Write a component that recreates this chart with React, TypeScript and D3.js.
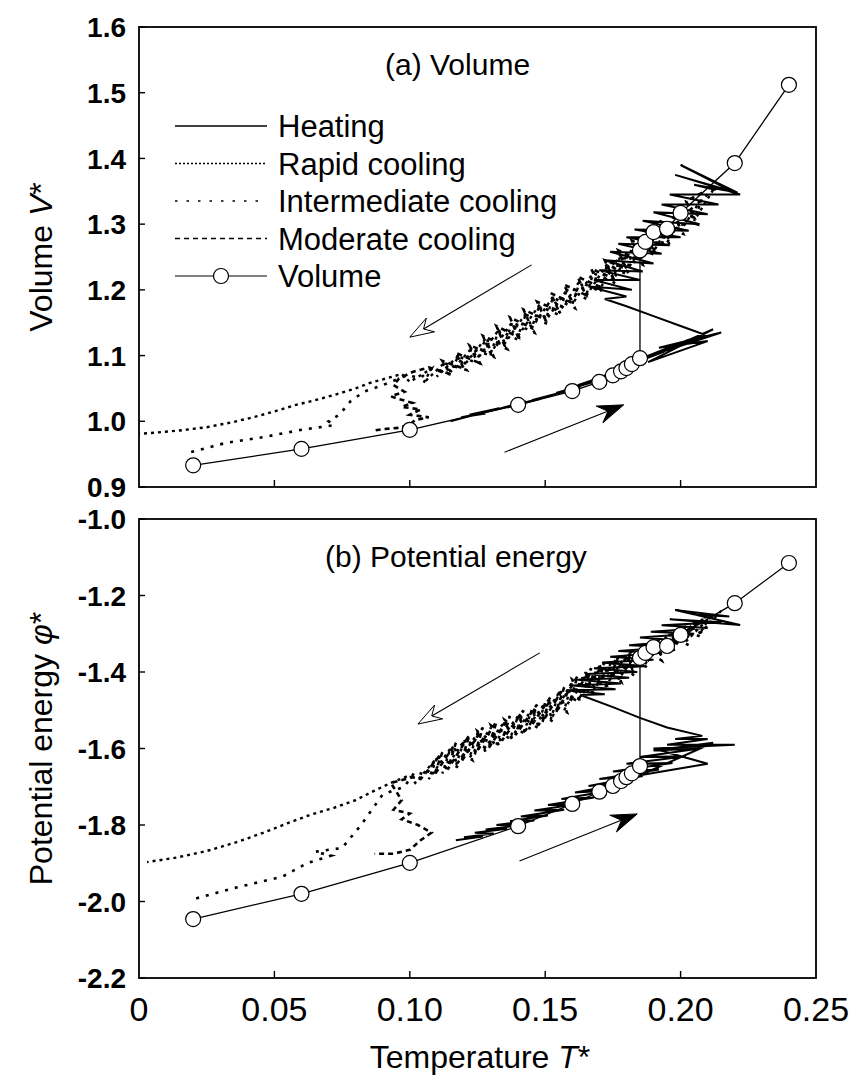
import * as d3 from "d3"

// axes
const X_TICKS = [0, 0.05, 0.1, 0.15, 0.2, 0.25]
const X_TICK_LABELS = ["0", "0.05", "0.10", "0.15", "0.20", "0.25"]
const V_TICKS = [0.9, 1.0, 1.1, 1.2, 1.3, 1.4, 1.5, 1.6]
const V_TICK_LABELS = ["0.9", "1.0", "1.1", "1.2", "1.3", "1.4", "1.5", "1.6"]
const PHI_TICKS = [-2.2, -2.0, -1.8, -1.6, -1.4, -1.2, -1.0]
const PHI_TICK_LABELS = ["-2.2", "-2.0", "-1.8", "-1.6", "-1.4", "-1.2", "-1.0"]

// circle series (same temperatures in both panels)
const STEP_T = [0.02, 0.06, 0.1, 0.14, 0.16, 0.17, 0.175, 0.178, 0.18, 0.182, 0.185, 0.185, 0.187, 0.19, 0.195, 0.2, 0.22, 0.24]
const STEP_V = [0.933, 0.958, 0.987, 1.025, 1.046, 1.06, 1.07, 1.076, 1.081, 1.087, 1.096, 1.26, 1.273, 1.288, 1.293, 1.317, 1.393, 1.512]
const STEP_PHI = [-2.046, -1.98, -1.899, -1.803, -1.745, -1.713, -1.698, -1.685, -1.675, -1.665, -1.646, -1.363, -1.35, -1.335, -1.332, -1.303, -1.22, -1.115]

type P = [number, number]

// panel (a) traces, [T*, V*]
const HEATING_A: P[] = [
  [0.115, 1.0], [0.124, 1.01], [0.119, 1.006], [0.128, 1.012], [0.122, 1.01], [0.133, 1.02], [0.126, 1.012],
  [0.138, 1.024], [0.131, 1.017], [0.143, 1.03], [0.136, 1.021], [0.148, 1.034], [0.14, 1.026], [0.153, 1.04],
  [0.145, 1.032], [0.158, 1.046], [0.149, 1.036], [0.163, 1.052], [0.154, 1.043], [0.168, 1.06], [0.158, 1.048],
  [0.172, 1.068], [0.162, 1.055], [0.177, 1.076], [0.166, 1.06], [0.182, 1.086], [0.17, 1.066], [0.188, 1.098],
  [0.174, 1.075], [0.194, 1.106], [0.178, 1.082], [0.198, 1.115], [0.182, 1.09], [0.203, 1.124], [0.186, 1.096],
  [0.208, 1.13], [0.19, 1.1], [0.212, 1.14], [0.188, 1.09], [0.21, 1.122], [0.192, 1.112], [0.215, 1.135],
  [0.195, 1.108], [0.21, 1.13],
  [0.2, 1.145], [0.19, 1.16], [0.18, 1.175], [0.172, 1.186],
  [0.18, 1.19], [0.166, 1.205], [0.182, 1.2], [0.168, 1.215], [0.185, 1.215], [0.17, 1.23], [0.186, 1.228],
  [0.172, 1.245], [0.19, 1.24], [0.174, 1.258], [0.193, 1.255], [0.177, 1.27], [0.196, 1.268], [0.18, 1.28],
  [0.2, 1.28], [0.183, 1.292], [0.203, 1.29], [0.186, 1.305], [0.207, 1.3], [0.19, 1.318], [0.21, 1.315],
  [0.193, 1.33], [0.214, 1.33], [0.196, 1.345], [0.222, 1.345], [0.198, 1.375], [0.219, 1.35], [0.2, 1.39],
  [0.221, 1.348], [0.205, 1.36], [0.213, 1.352],
]
const RAPID_A: P[] = [
  [0.212, 1.352], [0.205, 1.305], [0.208, 1.34], [0.2, 1.29], [0.203, 1.33], [0.195, 1.272], [0.198, 1.315],
  [0.19, 1.258], [0.193, 1.298], [0.185, 1.245], [0.188, 1.282], [0.18, 1.228], [0.183, 1.268], [0.175, 1.215],
  [0.178, 1.255], [0.17, 1.2], [0.173, 1.24], [0.165, 1.19], [0.168, 1.228], [0.16, 1.178], [0.163, 1.215],
  [0.155, 1.165], [0.158, 1.2], [0.15, 1.152], [0.153, 1.19], [0.145, 1.142], [0.148, 1.178], [0.14, 1.13],
  [0.143, 1.165], [0.135, 1.118], [0.138, 1.152], [0.13, 1.105], [0.133, 1.14], [0.125, 1.095], [0.128, 1.126],
  [0.12, 1.085], [0.123, 1.112], [0.115, 1.075], [0.118, 1.1], [0.11, 1.068], [0.113, 1.09], [0.105, 1.058],
  [0.108, 1.08], [0.1, 1.06], [0.097, 1.072], [0.092, 1.066], [0.085, 1.058], [0.08, 1.05], [0.072, 1.04],
  [0.065, 1.032], [0.058, 1.025], [0.05, 1.015], [0.043, 1.007], [0.035, 0.999], [0.025, 0.991], [0.015, 0.986],
  [0.004, 0.982], [0.0, 0.981],
]
const INTERMEDIATE_A: P[] = [
  [0.21, 1.345], [0.203, 1.32], [0.206, 1.3], [0.198, 1.31], [0.201, 1.285], [0.193, 1.295], [0.196, 1.268],
  [0.188, 1.28], [0.191, 1.252], [0.183, 1.268], [0.186, 1.238], [0.178, 1.25], [0.181, 1.222], [0.173, 1.238],
  [0.176, 1.21], [0.168, 1.225], [0.171, 1.196], [0.163, 1.212], [0.166, 1.185], [0.158, 1.2], [0.161, 1.172],
  [0.153, 1.188], [0.156, 1.16], [0.148, 1.175], [0.151, 1.148], [0.143, 1.162], [0.146, 1.135], [0.138, 1.15],
  [0.141, 1.122], [0.133, 1.138], [0.136, 1.11], [0.128, 1.124], [0.131, 1.098], [0.123, 1.11], [0.126, 1.088],
  [0.118, 1.098], [0.121, 1.078], [0.113, 1.088], [0.116, 1.07], [0.108, 1.08], [0.104, 1.066], [0.099, 1.07],
  [0.09, 1.055], [0.083, 1.045], [0.078, 1.03], [0.074, 1.01], [0.07, 1.0], [0.072, 0.994], [0.06, 0.987],
  [0.046, 0.976], [0.032, 0.967], [0.017, 0.951],
]
const MODERATE_A: P[] = [
  [0.208, 1.348], [0.202, 1.335], [0.205, 1.31], [0.197, 1.322], [0.2, 1.292], [0.192, 1.305], [0.195, 1.278],
  [0.187, 1.29], [0.19, 1.26], [0.182, 1.275], [0.185, 1.245], [0.177, 1.26], [0.18, 1.232], [0.172, 1.245],
  [0.175, 1.218], [0.167, 1.232], [0.17, 1.205], [0.162, 1.22], [0.165, 1.192], [0.157, 1.208], [0.16, 1.18],
  [0.152, 1.195], [0.155, 1.168], [0.147, 1.182], [0.15, 1.155], [0.142, 1.17], [0.145, 1.142], [0.137, 1.158],
  [0.14, 1.128], [0.132, 1.145], [0.135, 1.115], [0.127, 1.13], [0.13, 1.102], [0.122, 1.116], [0.125, 1.09],
  [0.117, 1.104], [0.12, 1.08], [0.112, 1.092], [0.115, 1.072], [0.107, 1.082], [0.101, 1.075], [0.096, 1.065],
  [0.094, 1.055], [0.098, 1.045], [0.093, 1.038], [0.095, 1.035], [0.101, 1.028], [0.097, 1.022], [0.104, 1.018],
  [0.1, 1.01], [0.107, 1.006], [0.102, 1.002], [0.1, 0.995], [0.096, 0.99], [0.09, 0.988], [0.087, 0.986],
]

// panel (b) traces, [T*, phi*]
const HEATING_B: P[] = [
  [0.117, -1.84], [0.127, -1.83], [0.12, -1.832], [0.131, -1.822], [0.124, -1.82], [0.136, -1.81], [0.128, -1.812],
  [0.141, -1.8], [0.132, -1.8], [0.146, -1.788], [0.137, -1.79], [0.151, -1.775], [0.141, -1.778], [0.157, -1.76],
  [0.146, -1.762], [0.162, -1.745], [0.151, -1.748], [0.168, -1.728], [0.156, -1.732], [0.174, -1.71], [0.161, -1.715],
  [0.18, -1.69], [0.166, -1.698], [0.186, -1.672], [0.17, -1.68], [0.192, -1.655], [0.175, -1.66], [0.197, -1.638],
  [0.18, -1.64], [0.202, -1.62], [0.185, -1.622], [0.207, -1.6], [0.19, -1.605], [0.212, -1.585], [0.185, -1.67],
  [0.21, -1.64], [0.19, -1.6], [0.22, -1.59], [0.195, -1.59], [0.21, -1.575], [0.198, -1.575], [0.208, -1.567],
  [0.195, -1.545], [0.185, -1.52], [0.175, -1.492], [0.163, -1.46],
  [0.172, -1.458], [0.158, -1.448], [0.176, -1.445], [0.16, -1.435], [0.178, -1.43], [0.162, -1.42], [0.181, -1.415],
  [0.165, -1.405], [0.184, -1.4], [0.168, -1.39], [0.187, -1.385], [0.171, -1.375], [0.19, -1.368], [0.174, -1.36],
  [0.193, -1.35], [0.177, -1.345], [0.197, -1.335], [0.181, -1.33], [0.201, -1.318], [0.185, -1.31], [0.205, -1.3],
  [0.189, -1.295], [0.21, -1.285], [0.193, -1.278], [0.215, -1.27], [0.196, -1.262], [0.222, -1.277], [0.198, -1.238],
  [0.218, -1.255], [0.205, -1.25],
]
const RAPID_B: P[] = [
  [0.215, -1.24], [0.207, -1.3], [0.211, -1.255], [0.202, -1.32], [0.205, -1.27], [0.197, -1.34], [0.2, -1.285],
  [0.192, -1.36], [0.195, -1.305], [0.187, -1.38], [0.19, -1.325], [0.182, -1.4], [0.185, -1.34], [0.177, -1.42],
  [0.18, -1.355], [0.172, -1.44], [0.175, -1.37], [0.167, -1.455], [0.17, -1.385], [0.162, -1.475], [0.165, -1.4],
  [0.157, -1.5], [0.16, -1.425], [0.152, -1.525], [0.155, -1.455], [0.147, -1.545], [0.15, -1.48], [0.142, -1.56],
  [0.145, -1.5], [0.137, -1.575], [0.14, -1.515], [0.132, -1.59], [0.135, -1.53], [0.127, -1.605], [0.13, -1.545],
  [0.122, -1.625], [0.125, -1.56], [0.117, -1.645], [0.12, -1.58], [0.112, -1.665], [0.115, -1.6], [0.107, -1.68],
  [0.11, -1.625], [0.102, -1.69], [0.1, -1.67], [0.093, -1.69], [0.087, -1.71], [0.08, -1.735], [0.072, -1.755],
  [0.063, -1.774], [0.055, -1.795], [0.046, -1.82], [0.036, -1.845], [0.025, -1.868], [0.014, -1.885], [0.003, -1.897],
]
const INTERMEDIATE_B: P[] = [
  [0.212, -1.255], [0.205, -1.27], [0.208, -1.31], [0.2, -1.285], [0.203, -1.33], [0.195, -1.3], [0.198, -1.35],
  [0.19, -1.32], [0.193, -1.37], [0.185, -1.335], [0.188, -1.39], [0.18, -1.35], [0.183, -1.41], [0.175, -1.365],
  [0.178, -1.425], [0.17, -1.38], [0.173, -1.44], [0.165, -1.4], [0.168, -1.46], [0.16, -1.42], [0.163, -1.48],
  [0.155, -1.45], [0.158, -1.505], [0.15, -1.475], [0.153, -1.53], [0.145, -1.495], [0.148, -1.55], [0.14, -1.51],
  [0.143, -1.565], [0.135, -1.525], [0.138, -1.58], [0.13, -1.54], [0.133, -1.595], [0.125, -1.555], [0.128, -1.61],
  [0.12, -1.575], [0.123, -1.63], [0.115, -1.595], [0.118, -1.65], [0.11, -1.62], [0.106, -1.67], [0.102, -1.66],
  [0.098, -1.7], [0.09, -1.72], [0.082, -1.8], [0.075, -1.86], [0.065, -1.87], [0.071, -1.88], [0.062, -1.9],
  [0.053, -1.935], [0.035, -1.965], [0.019, -1.996],
]
const MODERATE_B: P[] = [
  [0.21, -1.25], [0.204, -1.29], [0.207, -1.265], [0.199, -1.31], [0.202, -1.28], [0.194, -1.33], [0.197, -1.3],
  [0.189, -1.355], [0.192, -1.315], [0.184, -1.375], [0.187, -1.33], [0.179, -1.395], [0.182, -1.345], [0.174, -1.415],
  [0.177, -1.36], [0.169, -1.435], [0.172, -1.375], [0.164, -1.455], [0.167, -1.39], [0.159, -1.48], [0.162, -1.41],
  [0.154, -1.505], [0.157, -1.44], [0.149, -1.53], [0.152, -1.465], [0.144, -1.55], [0.147, -1.485], [0.139, -1.565],
  [0.142, -1.5], [0.134, -1.58], [0.137, -1.515], [0.129, -1.6], [0.132, -1.53], [0.124, -1.615], [0.127, -1.545],
  [0.119, -1.635], [0.122, -1.565], [0.114, -1.655], [0.117, -1.585], [0.109, -1.67], [0.112, -1.61], [0.104, -1.68],
  [0.101, -1.675], [0.093, -1.69], [0.097, -1.735], [0.094, -1.76], [0.1, -1.77], [0.097, -1.785], [0.103, -1.8],
  [0.108, -1.82], [0.104, -1.84], [0.1, -1.865], [0.094, -1.875], [0.087, -1.875],
]

// direction arrows [from, to]
const ARROWS_A: { from: P; to: P; open: boolean }[] = [
  { from: [0.145, 1.238], to: [0.1, 1.128], open: true },
  { from: [0.135, 0.953], to: [0.179, 1.025], open: false },
]
const ARROWS_B: { from: P; to: P; open: boolean }[] = [
  { from: [0.148, -1.35], to: [0.103, -1.536], open: true },
  { from: [0.1405, -1.894], to: [0.184, -1.771], open: false },
]

const LEGEND = [
  { label: "Heating", dash: "none", width: 1.3, marker: false },
  { label: "Rapid cooling", dash: "2,2", width: 1.4, marker: false },
  { label: "Intermediate cooling", dash: "2.5,9", width: 1.6, marker: false },
  { label: "Moderate cooling", dash: "5,4", width: 1.4, marker: false },
  { label: "Volume", dash: "none", width: 1.2, marker: true },
]

const FONT = "'Liberation Sans', Arial, Helvetica, sans-serif"
const NARROW = "'Liberation Sans Narrow', 'Arial Narrow', 'Liberation Sans', sans-serif"

const W = 850
const H = 1086
const LEFT = 139
const RIGHT = 816
const A_TOP = 27
const A_BOT = 487
const B_TOP = 519
const B_BOT = 978

const x = d3.scaleLinear().domain([0, 0.25]).range([LEFT, RIGHT])
const yA = d3.scaleLinear().domain([0.9, 1.6]).range([A_BOT, A_TOP])
const yB = d3.scaleLinear().domain([-2.2, -1.0]).range([B_BOT, B_TOP])

function arrowHead(x1: number, y1: number, x2: number, y2: number, open: boolean) {
  const ang = Math.atan2(y2 - y1, x2 - x1)
  const len = open ? 24 : 26
  const half = open ? 8 : 9
  const notch = open ? 8 : 9
  const ux = Math.cos(ang)
  const uy = Math.sin(ang)
  const bx = x2 - ux * len
  const by = y2 - uy * len
  const pts: [number, number][] = [
    [x2, y2],
    [bx - uy * half, by + ux * half],
    [x2 - ux * (len - notch), y2 - uy * (len - notch)],
    [bx + uy * half, by - ux * half],
  ]
  return pts.map((p) => p.join(",")).join(" ")
}

function Panel({
  y,
  top,
  bottom,
  ticks,
  tickLabels,
  heating,
  rapid,
  intermediate,
  moderate,
  stepY,
  arrows,
  title,
  titleX,
  showXLabels,
}: {
  y: d3.ScaleLinear<number, number>
  top: number
  bottom: number
  ticks: number[]
  tickLabels: string[]
  heating: P[]
  rapid: P[]
  intermediate: P[]
  moderate: P[]
  stepY: number[]
  arrows: { from: P; to: P; open: boolean }[]
  title: string
  titleX: number
  showXLabels: boolean
}) {
  const line = d3
    .line<P>()
    .x((d) => x(d[0]))
    .y((d) => y(d[1]))
  const steps: P[] = STEP_T.map((t, i) => [t, stepY[i]])
  return (
    <g>
      {/* frame */}
      <rect x={LEFT} y={top} width={RIGHT - LEFT} height={bottom - top} fill="none" stroke="#000" strokeWidth={1.8} />
      {ticks.map((t, i) => (
        <g key={"y" + i}>
          <line x1={LEFT} x2={LEFT + 6} y1={y(t)} y2={y(t)} stroke="#000" strokeWidth={1.4} />
          <text
            x={126}
            y={y(t)}
            dy="0.36em"
            textAnchor="end"
            fontFamily={FONT}
            fontWeight="bold"
            fontSize={28}
          >
            {tickLabels[i]}
          </text>
        </g>
      ))}
      {X_TICKS.map((t, i) => (
        <g key={"x" + i}>
          {i > 0 && i < X_TICKS.length - 1 && (
            <line x1={x(t)} x2={x(t)} y1={bottom} y2={bottom - 7} stroke="#000" strokeWidth={1.4} />
          )}
          {showXLabels && (
            <text x={x(t)} y={bottom + 43} textAnchor="middle" fontFamily={NARROW} fontSize={34}>
              {X_TICK_LABELS[i]}
            </text>
          )}
        </g>
      ))}
      <text x={titleX} y={top + 48} fontFamily={FONT} fontSize={30}>
        {title}
      </text>

      {/* traces */}
      <path d={line(moderate) ?? ""} fill="none" stroke="#000" strokeWidth={2.6} strokeDasharray="5,4" />
      <path d={line(intermediate) ?? ""} fill="none" stroke="#000" strokeWidth={2.6} strokeDasharray="3,7" />
      <path d={line(rapid) ?? ""} fill="none" stroke="#000" strokeWidth={2.4} strokeDasharray="3,4" />
      <path d={line(heating) ?? ""} fill="none" stroke="#000" strokeWidth={2} strokeLinejoin="miter" />

      {/* arrows */}
      {arrows.map((a, i) => {
        const x1 = x(a.from[0])
        const y1 = y(a.from[1])
        const x2 = x(a.to[0])
        const y2 = y(a.to[1])
        const ang = Math.atan2(y2 - y1, x2 - x1)
        const stop = a.open ? 16 : 14
        return (
          <g key={"a" + i}>
            <line
              x1={x1}
              y1={y1}
              x2={x2 - Math.cos(ang) * stop}
              y2={y2 - Math.sin(ang) * stop}
              stroke="#000"
              strokeWidth={1.1}
            />
            <polygon
              points={arrowHead(x1, y1, x2, y2, a.open)}
              fill={a.open ? "#fff" : "#000"}
              stroke="#000"
              strokeWidth={1}
            />
          </g>
        )
      })}

      {/* step series */}
      <path d={line(steps) ?? ""} fill="none" stroke="#000" strokeWidth={1.3} />
      {steps.map((d, i) => (
        <circle key={"c" + i} cx={x(d[0])} cy={y(d[1])} r={7.5} fill="#fff" stroke="#000" strokeWidth={1.2} />
      ))}
    </g>
  )
}

export default function App() {
  const legendX0 = 175
  const legendX1 = 267
  const legendY0 = 126
  const legendDy = 37.5
  return (
    <div style={{ position: "absolute", left: 0, top: 0 }}>
      <svg width={W} height={H} viewBox={`0 0 ${W} ${H}`} style={{ display: "block", background: "#fff" }}>
        <Panel
          y={yA}
          top={A_TOP}
          bottom={A_BOT}
          ticks={V_TICKS}
          tickLabels={V_TICK_LABELS}
          heating={HEATING_A}
          rapid={RAPID_A}
          intermediate={INTERMEDIATE_A}
          moderate={MODERATE_A}
          stepY={STEP_V}
          arrows={ARROWS_A}
          title="(a) Volume"
          titleX={385}
          showXLabels={false}
        />
        <Panel
          y={yB}
          top={B_TOP}
          bottom={B_BOT}
          ticks={PHI_TICKS}
          tickLabels={PHI_TICK_LABELS}
          heating={HEATING_B}
          rapid={RAPID_B}
          intermediate={INTERMEDIATE_B}
          moderate={MODERATE_B}
          stepY={STEP_PHI}
          arrows={ARROWS_B}
          title="(b) Potential energy"
          titleX={325}
          showXLabels={true}
        />

        {/* legend */}
        {LEGEND.map((l, i) => {
          const ly = legendY0 + i * legendDy
          return (
            <g key={"l" + i}>
              <line
                x1={legendX0}
                x2={legendX1}
                y1={ly}
                y2={ly}
                stroke="#000"
                strokeWidth={l.width}
                strokeDasharray={l.dash}
              />
              {l.marker && <circle cx={(legendX0 + legendX1) / 2} cy={ly} r={7.5} fill="#fff" stroke="#000" strokeWidth={1.2} />}
              <text x={278} y={ly} dy="0.36em" fontFamily={FONT} fontSize={31}>
                {l.label}
              </text>
            </g>
          )
        })}

        {/* axis titles */}
        <text
          transform={`translate(52, ${(A_TOP + A_BOT) / 2}) rotate(-90)`}
          textAnchor="middle"
          fontFamily={NARROW}
          fontSize={32}
        >
          Volume <tspan fontStyle="italic">V</tspan>*
        </text>
        <text
          transform={`translate(52, ${(B_TOP + B_BOT) / 2}) rotate(-90)`}
          textAnchor="middle"
          fontFamily={NARROW}
          fontSize={32}
        >
          Potential energy{"  "}
          <tspan fontStyle="italic">φ</tspan>*
        </text>
        <text x={480} y={1068} textAnchor="middle" fontFamily={NARROW} fontSize={32}>
          Temperature{"   "}
          <tspan fontStyle="italic">T</tspan>*
        </text>
      </svg>
    </div>
  )
}
